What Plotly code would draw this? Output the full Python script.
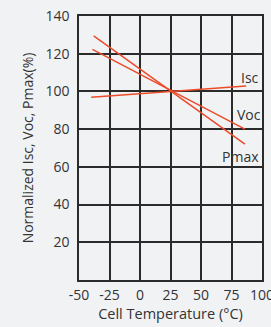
import plotly.graph_objects as go

temps = [-38, 86]
isc = [96.9, 102.9]
voc = [122.3, 80.0]
pmax = [129.5, 72.1]
temps_isc = [-40, 87]
temps_voc = [-39, 86]

labels = ["Isc", "Voc", "Pmax"]
label_x = [97, 98.5, 97]
label_y = [107.6, 88, 65.7]

x_ticks = [-50, -25, 0, 25, 50, 75, 100]
y_ticks = [20, 40, 60, 80, 100, 120, 140]

red = "#ec4b2a"
bg = "#f1f2f4"
grid = "#2b2b2b"
fig = go.Figure()
fig.add_trace(go.Scatter(x=temps_isc, y=isc, mode="lines", line=dict(color=red, width=1.5)))
fig.add_trace(go.Scatter(x=temps_voc, y=voc, mode="lines", line=dict(color=red, width=1.5)))
fig.add_trace(go.Scatter(x=temps, y=pmax, mode="lines", line=dict(color=red, width=1.5)))

for t, xx, yy in zip(labels, label_x, label_y):
    fig.add_annotation(x=xx, y=yy, text=t, showarrow=False, xanchor="right", xshift=3,
                       font=dict(size=14, color="#333"), bgcolor="rgba(0,0,0,0)")

fig.update_layout(
    width=271, height=327,
    margin=dict(l=79, r=9, t=16, b=47),
    paper_bgcolor=bg, plot_bgcolor=bg,
    showlegend=False,
    font=dict(family="Open Sans", size=14, color="#333"),
)
fig.update_xaxes(range=[-50, 100], tickvals=x_ticks, ticktext=[str(v) for v in x_ticks],
                 showgrid=True, gridcolor=grid, gridwidth=1.5,
                 showline=True, linecolor=grid, linewidth=1.5, mirror=True,
                 zeroline=False, ticks="", ticklabelstandoff=1, tickfont=dict(size=14),
                 ticklabeloverflow="allow", automargin=False,
                 title=dict(text="Cell Temperature (°C)", standoff=3, font=dict(size=14.5)))
fig.update_yaxes(range=[0, 140], tickvals=y_ticks, ticktext=[str(v) for v in y_ticks],
                 showgrid=True, gridcolor=grid, gridwidth=1.5,
                 showline=True, linecolor=grid, linewidth=1.5, mirror=True,
                 zeroline=False, ticks="", ticklabelstandoff=5, tickfont=dict(size=14),
                 automargin=False,
                 title=dict(text="Normalized Isc, Voc, Pmax(%)", standoff=9, font=dict(size=14)))

fig.write_html("out.html", config={"displayModeBar": False},
               post_script="document.body.style.margin='0';document.body.style.background='%s';" % bg)
